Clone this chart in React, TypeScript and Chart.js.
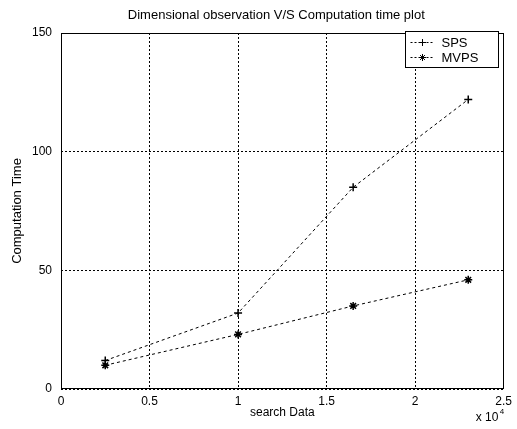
import React, { useEffect, useRef } from "react";
import { Chart, registerables } from "chart.js";

Chart.register(...registerables);

const searchData = [2500, 10000, 16500, 23000];
const spsTimes = [12, 32, 85, 122];
const mvpsTimes = [10, 23, 35, 46];
const seriesNames = ["SPS", "MVPS"];
const seriesMarkers = ["cross", "star"];
const xTickValues = [0, 5000, 10000, 15000, 20000, 25000];
const yTickValues = [0, 50, 100, 150];
const chartTitle = "Dimensional observation V/S Computation time plot";
const xAxisTitle = "search Data";
const yAxisTitle = "Computation Time";
const xExponentBase = "x 10";
const xExponent = "4";

const FONT = '"Liberation Sans", Arial, sans-serif';

function drawMarker(ctx: CanvasRenderingContext2D, style: string, x: number, y: number, r: number) {
  ctx.beginPath();
  ctx.moveTo(x - r, y);
  ctx.lineTo(x + r, y);
  ctx.moveTo(x, y - r);
  ctx.lineTo(x, y + r);
  if (style === "star") {
    const d = r * 0.7;
    ctx.moveTo(x - d, y - d);
    ctx.lineTo(x + d, y + d);
    ctx.moveTo(x - d, y + d);
    ctx.lineTo(x + d, y - d);
  }
  ctx.stroke();
}

const overlay = {
  id: "overlay",
  afterDraw(chart: any) {
    const { ctx, chartArea: a } = chart;
    ctx.save();
    ctx.setLineDash([]);
    ctx.strokeStyle = "#000";
    ctx.lineWidth = 1;
    const L = Math.round(a.left) + 0.5;
    const T = Math.round(a.top) + 0.5;
    const R = Math.round(a.right) - 0.5;
    const B = Math.round(a.bottom) - 0.5;
    ctx.strokeRect(L, T, R - L, B - T);

    // title
    ctx.fillStyle = "#000";
    ctx.font = `13px ${FONT}`;
    ctx.textAlign = "center";
    ctx.textBaseline = "middle";
    ctx.fillText(chartTitle, (a.left + a.right) / 2 - 6, 15);

    // exponent label
    ctx.textAlign = "left";
    ctx.font = `12px ${FONT}`;
    ctx.fillText(xExponentBase, a.right - 28, 418);
    ctx.font = `8px ${FONT}`;
    ctx.fillText(xExponent, a.right - 4, 412);

    // legend
    const bw = 93, bh = 36;
    const bx = Math.round(a.right - 6 - bw) + 0.5;
    const by = T - 2;
    ctx.fillStyle = "#fff";
    ctx.fillRect(bx, by, bw, bh);
    ctx.strokeRect(bx, by, bw, bh);
    ctx.font = `13px ${FONT}`;
    ctx.fillStyle = "#000";
    seriesNames.forEach((name, i) => {
      const ry = by + 11 + i * 15;
      ctx.setLineDash([2, 2]);
      ctx.beginPath();
      ctx.moveTo(bx + 5, ry);
      ctx.lineTo(bx + 27, ry);
      ctx.stroke();
      ctx.setLineDash([]);
      drawMarker(ctx, seriesMarkers[i], bx + 17, ry, 3.5);
      ctx.textAlign = "left";
      ctx.fillText(name, bx + 36, ry + 1);
    });
    ctx.restore();
  },
};

export default function App() {
  const ref = useRef<HTMLCanvasElement | null>(null);
  useEffect(() => {
    document.body.style.margin = "0";
    const canvas = ref.current;
    if (!canvas) return;
    const datasets = [spsTimes, mvpsTimes].map((vals, i) => ({
      label: seriesNames[i],
      data: vals.map((v, j) => ({ x: searchData[j], y: v })),
      borderColor: "#000",
      backgroundColor: "#000",
      borderWidth: 1,
      borderDash: [3, 3],
      pointStyle: seriesMarkers[i] as any,
      pointRadius: 4,
      pointBorderWidth: 1.5,
      pointBorderColor: "#000",
      fill: false,
      tension: 0,
    }));
    const chart = new Chart(canvas, {
      type: "line",
      data: { datasets },
      options: {
        animation: false,
        responsive: false,
        maintainAspectRatio: false,
        layout: { padding: { top: 33, right: 12, left: 0, bottom: 0 } },
        plugins: { legend: { display: false }, tooltip: { enabled: false }, title: { display: false } },
        scales: {
          x: {
            type: "linear",
            min: 0,
            max: 25000,
            afterBuildTicks: (s: any) => {
              s.ticks = xTickValues.map((v) => ({ value: v }));
            },
            afterFit: (s: any) => {
              s.height = 40;
            },
            ticks: {
              color: "#000",
              font: { family: FONT, size: 12 },
              padding: 5,
              maxRotation: 0,
              callback: (v: any) => String(Number(v) / 10000),
            },
            grid: { color: "#000", lineWidth: 1, drawTicks: false },
            border: { display: false, dash: [2, 2] },
            title: {
              display: true,
              text: xAxisTitle,
              color: "#000",
              font: { family: FONT, size: 12 },
              padding: { top: 0, bottom: 9 },
            },
          },
          y: {
            type: "linear",
            min: 0,
            max: 150,
            afterBuildTicks: (s: any) => {
              s.ticks = yTickValues.map((v) => ({ value: v }));
            },
            afterFit: (s: any) => {
              s.width = 61;
            },
            ticks: {
              color: "#000",
              font: { family: FONT, size: 12 },
              padding: 9,
            },
            grid: { color: "#000", lineWidth: 1, drawTicks: false },
            border: { display: false, dash: [2, 2] },
            title: {
              display: true,
              text: yAxisTitle,
              color: "#000",
              font: { family: FONT, size: 13 },
              padding: { top: 10, bottom: 0 },
            },
          },
        },
      },
      plugins: [overlay],
    });
    return () => chart.destroy();
  }, []);
  return (
    <div style={{ width: 517, height: 429, background: "#fff" }}>
      <canvas ref={ref} width={517} height={429} style={{ display: "block" }} />
    </div>
  );
}
